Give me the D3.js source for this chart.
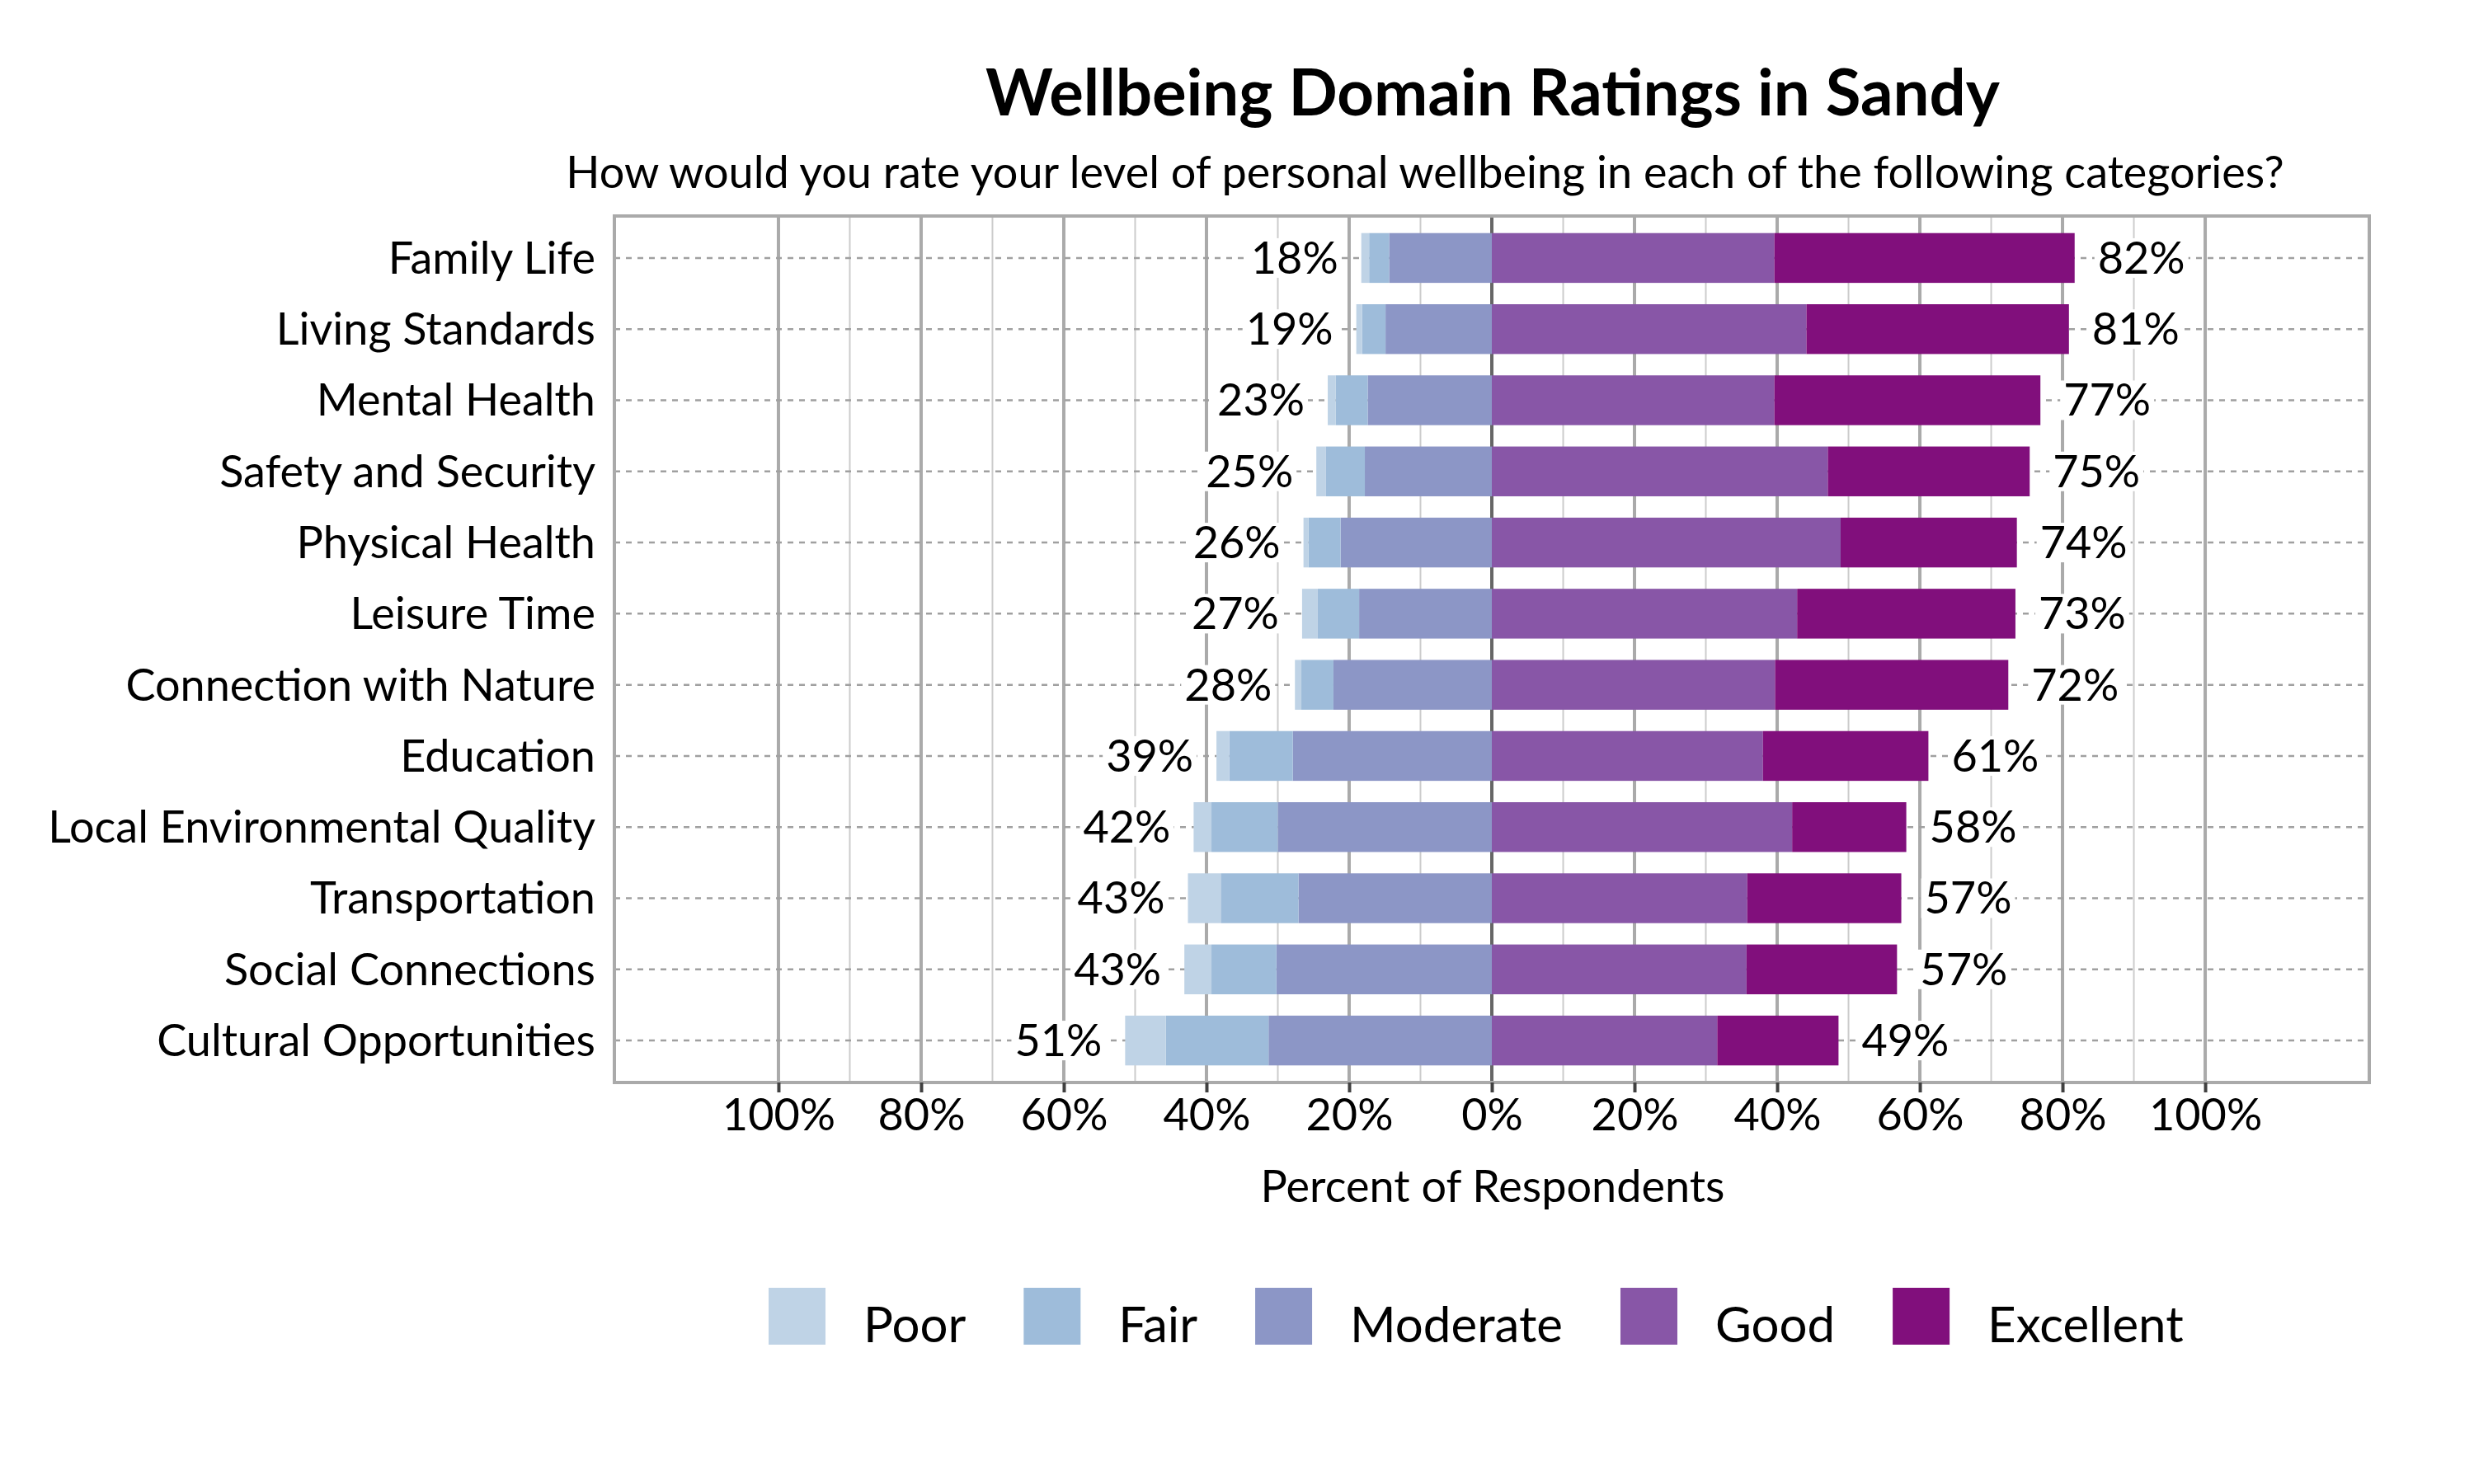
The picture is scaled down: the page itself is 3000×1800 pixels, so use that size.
<!DOCTYPE html>
<html>
<head>
<meta charset="utf-8">
<script src="https://cdn.jsdelivr.net/npm/d3@7"></script>
<style>
  body { margin: 0; background: #fff; }
  text { font-family: Lato, "Open Sans", sans-serif; fill: #000; }
</style>
</head>
<body>
<svg id="chart" width="3000" height="1800"></svg>
<script>
// domains, top to bottom
var categories = ["Family Life", "Living Standards", "Mental Health", "Safety and Security",
  "Physical Health", "Leisure Time", "Connection with Nature", "Education",
  "Local Environmental Quality", "Transportation", "Social Connections", "Cultural Opportunities"];

var levels = ["Poor", "Fair", "Moderate", "Good", "Excellent"];

// percent of respondents per level
var poor      = [1.1, 0.8, 1.1, 1.3, 0.7, 2.2, 0.9, 1.8, 2.5, 4.6, 3.8, 5.7];
var fair      = [2.8, 3.3, 4.5, 5.5, 4.5, 5.8, 4.5, 8.9, 9.3, 10.9, 9.1, 14.4];
var moderate  = [14.4, 14.9, 17.4, 17.8, 21.2, 18.6, 22.2, 27.9, 30.0, 27.1, 30.2, 31.3];
var good      = [39.6, 44.1, 39.6, 47.1, 48.9, 42.8, 39.7, 38.0, 42.1, 35.8, 35.7, 31.6];
var excellent = [42.1, 36.8, 37.3, 28.3, 24.7, 30.6, 32.7, 23.2, 16.0, 21.6, 21.1, 17.0];

var tickValues = [-100, -80, -60, -40, -20, 0, 20, 40, 60, 80, 100];
var gridValues = d3.range(-100, 101, 10);

var colors = ["#bfd3e6", "#9ebcda", "#8c96c6", "#8856a7", "#810f7c"];

var svg = d3.select("#chart");
var box = {left: 745, right: 2873, top: 262, bottom: 1313};

var x = d3.scaleLinear().domain([-123, 123]).range([box.left, box.right]);
var y = d3.scaleBand().domain(categories).range([box.top, box.bottom])
    .paddingInner(0.3).paddingOuter(0.24);
var color = d3.scaleOrdinal().domain(levels).range(colors);

// segments: negative side grows out from 0 as Moderate, Fair, Poor
var rows = categories.map(function(c, i) {
  var segs = [];
  var left = 0;
  [["Moderate", moderate[i]], ["Fair", fair[i]], ["Poor", poor[i]]].forEach(function(p) {
    segs.push({level: p[0], x0: left - p[1], x1: left});
    left -= p[1];
  });
  var right = 0;
  [["Good", good[i]], ["Excellent", excellent[i]]].forEach(function(p) {
    segs.push({level: p[0], x0: right, x1: right + p[1]});
    right += p[1];
  });
  return {cat: c, segs: segs, neg: -left, pos: right};
});

svg.append("rect").attr("width", 3000).attr("height", 1800).attr("fill", "#fff");

// vertical grid
svg.append("g").selectAll("line")
  .data(gridValues.filter(function(d) { return d !== 0; }))
  .join("line")
    .attr("x1", d => x(d)).attr("x2", d => x(d))
    .attr("y1", box.top).attr("y2", box.bottom)
    .attr("stroke", d => d % 20 === 0 ? "#aaaaaa" : "#cccccc")
    .attr("stroke-width", d => d % 20 === 0 ? 4 : 2);

// row guides
svg.append("g").selectAll("line")
  .data(categories)
  .join("line")
    .attr("x1", box.left).attr("x2", box.right)
    .attr("y1", d => y(d) + y.bandwidth() / 2)
    .attr("y2", d => y(d) + y.bandwidth() / 2)
    .attr("stroke", "#a0a0a0")
    .attr("stroke-width", 2.5)
    .attr("stroke-dasharray", "7,7");

svg.append("line")
    .attr("x1", x(0)).attr("x2", x(0))
    .attr("y1", box.top).attr("y2", box.bottom)
    .attr("stroke", "#666666").attr("stroke-width", 4);

// bars
svg.append("g").selectAll("g")
  .data(rows)
  .join("g")
    .attr("transform", d => "translate(0," + y(d.cat) + ")")
  .selectAll("rect")
  .data(d => d.segs)
  .join("rect")
    .attr("x", d => x(d.x0))
    .attr("width", d => x(d.x1) - x(d.x0))
    .attr("height", y.bandwidth())
    .attr("fill", d => color(d.level));

// value labels with white backing
var labelSize = 54;
var labels = svg.append("g");
rows.forEach(function(r) {
  var cy = y(r.cat) + y.bandwidth() / 2;
  [[x(-r.neg) - 28, "end", r.neg], [x(r.pos) + 28, "start", r.pos]].forEach(function(p) {
    var g = labels.append("g");
    var t = g.append("text")
        .attr("x", p[0]).attr("y", cy).attr("dy", "0.35em")
        .attr("text-anchor", p[1])
        .style("font-size", labelSize + "px")
        .text(Math.round(p[2]) + "%");
    var bb = t.node().getBBox();
    g.insert("rect", "text")
        .attr("x", bb.x - 4).attr("y", cy - 24)
        .attr("width", bb.width + 8).attr("height", 48)
        .attr("fill", "#fff");
  });
});

// box
svg.append("rect")
    .attr("x", box.left).attr("y", box.top)
    .attr("width", box.right - box.left).attr("height", box.bottom - box.top)
    .attr("fill", "none").attr("stroke", "#aaaaaa").attr("stroke-width", 4);

// category labels
svg.append("g").selectAll("text")
  .data(categories)
  .join("text")
    .attr("x", 722)
    .attr("y", d => y(d) + y.bandwidth() / 2)
    .attr("dy", "0.35em")
    .attr("text-anchor", "end")
    .style("font-size", "54px")
    .text(d => d);

// x axis
var xAxis = svg.append("g")
    .attr("transform", "translate(0," + box.bottom + ")")
    .call(d3.axisBottom(x).tickValues(tickValues)
      .tickFormat(d => Math.abs(d) + "%").tickSize(12).tickPadding(8));
xAxis.select(".domain").remove();
xAxis.selectAll(".tick line").attr("stroke", "#404040").attr("stroke-width", 4);
xAxis.selectAll(".tick text")
    .style("font-family", "Lato, 'Open Sans', sans-serif")
    .style("font-size", "54px").attr("fill", "#000");

svg.append("text")
    .attr("x", 1810).attr("y", 1458)
    .attr("text-anchor", "middle")
    .style("font-size", "54px")
    .text("Percent of Respondents");

// titles
svg.append("text")
    .attr("x", 1810).attr("y", 140)
    .attr("text-anchor", "middle")
    .style("font-size", "78px").style("font-weight", "bold")
    .text("Wellbeing Domain Ratings in Sandy");

svg.append("text")
    .attr("x", 1728).attr("y", 228)
    .attr("text-anchor", "middle")
    .style("font-size", "54px")
    .text("How would you rate your level of personal wellbeing in each of the following categories?");

// legend
var legend = svg.append("g").attr("transform", "translate(932,1562)");
var lx = 0;
levels.forEach(function(l) {
  var item = legend.append("g").attr("transform", "translate(" + lx + ",0)");
  item.append("rect").attr("width", 69).attr("height", 69).attr("fill", color(l));
  var t = item.append("text")
      .attr("x", 115).attr("y", 66)
      .style("font-size", "60px")
      .text(l);
  lx += 115 + t.node().getComputedTextLength() + 70;
});
</script>
</body>
</html>
